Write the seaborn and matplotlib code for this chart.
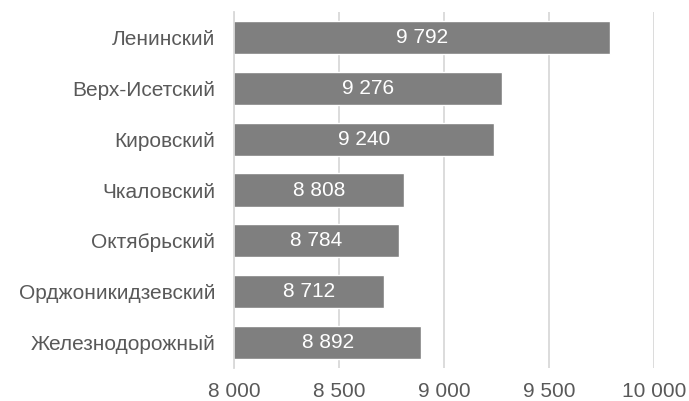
import pandas as pd
import matplotlib
matplotlib.use('Agg')
import matplotlib.pyplot as plt
import seaborn as sns

# Данные по районам
districts = ['Ленинский', 'Верх-Исетский', 'Кировский', 'Чкаловский',
             'Октябрьский', 'Орджоникидзевский', 'Железнодорожный']
values = [9792, 9276, 9240, 8808, 8784, 8712, 8892]
x_ticks = [8000, 8500, 9000, 9500, 10000]

df = pd.DataFrame({'district': districts, 'value': values})

sns.set_theme(style='white')
plt.rcParams['font.family'] = ['Liberation Sans', 'DejaVu Sans']

fig = plt.figure(figsize=(6.89, 4.01), dpi=100)
ax = fig.add_axes([234 / 689, 1 - 368 / 401, 420 / 689, 356 / 401])

sns.barplot(data=df, x='value', y='district', color='#7f7f7f', saturation=1,
            width=0.65, ax=ax, zorder=2)

ax.set_xlim(x_ticks[0], x_ticks[-1])
ax.set_ylim(len(districts) - 0.5, -0.5)
ax.set_xticks(x_ticks)
ax.set_xticklabels([f'{t:,}'.replace(',', ' ') for t in x_ticks])
ax.grid(axis='x', color='#d9d9d9', linewidth=1.3, zorder=0)
ax.set_axisbelow(True)
ax.set_xlabel('')
ax.set_ylabel('')

for s in ['top', 'right', 'bottom']:
    ax.spines[s].set_visible(False)
ax.spines['left'].set_color('#d9d9d9')
ax.spines['left'].set_linewidth(1.3)

ax.tick_params(axis='x', length=0, pad=10, labelsize=15, labelcolor='#595959')
ax.tick_params(axis='y', length=0, pad=13.5, labelsize=15, labelcolor='#595959')

# Подписи значений в центре видимой части столбца
for i, v in enumerate(values):
    xc = (x_ticks[0] + v) / 2
    ax.text(xc, i, f'{v:,}'.replace(',', ' '), ha='center', va='center',
            color='white', fontsize=15, zorder=3)

fig.savefig('out.png', dpi=100)
